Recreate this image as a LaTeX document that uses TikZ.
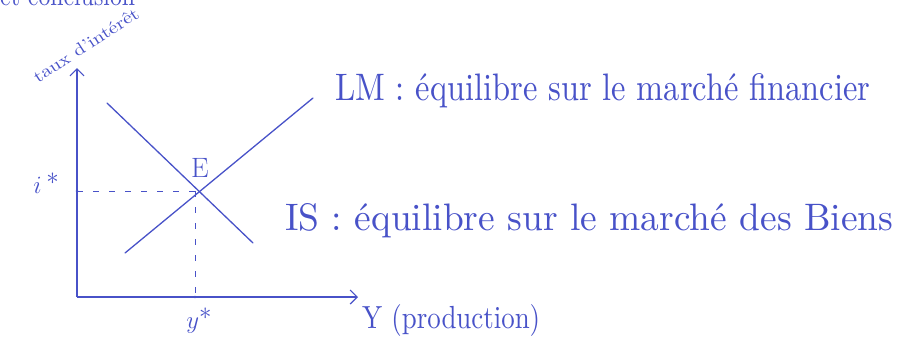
\documentclass[tikz,border=0pt]{standalone}
\usetikzlibrary{arrows.meta}
\definecolor{ink}{RGB}{72,82,200}
\begin{document}
\begin{tikzpicture}[x=1pt,y=-1pt,
  curve/.style={ink,line width=1.3pt,line cap=round},
  axis/.style={ink,line width=1.3pt,-{Straight Barb[length=7pt,width=14pt,line width=1.2pt]}},
  guide/.style={ink,line width=1pt,dash pattern=on 6pt off 10pt},
  hand/.style={ink,inner sep=0pt}]
\useasboundingbox (0,0) rectangle (899,349);
\begin{scope}
\clip (0,0) rectangle (899,349);
\node[hand,anchor=base west] (top) at (0,5) {\resizebox{135pt}{20pt}{et conclusion}};
\end{scope}
% axes
\coordinate (O) at (77,297);
\coordinate (ytip) at (77,68);
\coordinate (xtip) at (358,297);
\draw[axis] (O) -- (ytip);
\draw[axis] (O) -- (xtip);
% curves
\coordinate (E) at (195,191);
\coordinate (lm1) at (125,253);
\coordinate (lm2) at (313,98);
\coordinate (is1) at (107,103);
\coordinate (is2) at (253,243);
\draw[curve] (lm1) -- (lm2);
\draw[curve] (is1) -- (is2);
% guides
\coordinate (ist) at (77,191);
\coordinate (yst) at (195,297);
\draw[guide] (ist) -- (E);
\draw[guide] (E) -- (yst);
\fill[ink] (ist) circle (1.3pt);
\fill[ink] (yst) circle (1.3pt);
% labels
\node[hand,rotate=33] (taux) at (86,45) {\resizebox{122pt}{12pt}{taux d'intérêt}};
\node[hand] (istar) at (46,183) {\fontsize{28}{30}\selectfont $i$\,\raisebox{9pt}{$\ast$}};
\node[hand] (Elab) at (200,168) {\fontsize{28}{30}\selectfont E};
\node[hand] (ystar) at (199,321) {\fontsize{30}{32}\selectfont $y$\raisebox{9pt}{$\ast$}};
\node[hand,anchor=base west] (Ylab) at (362,328) {\resizebox{178pt}{24pt}{Y (production)}};
\node[hand,anchor=base west] (LMlab) at (335,100) {\resizebox{535pt}{27pt}{LM : équilibre sur le marché financier}};
\node[hand,anchor=base west] (ISlab) at (285,230) {\resizebox{608pt}{27pt}{IS : équilibre sur le marché des Biens}};
\end{tikzpicture}
\end{document}
